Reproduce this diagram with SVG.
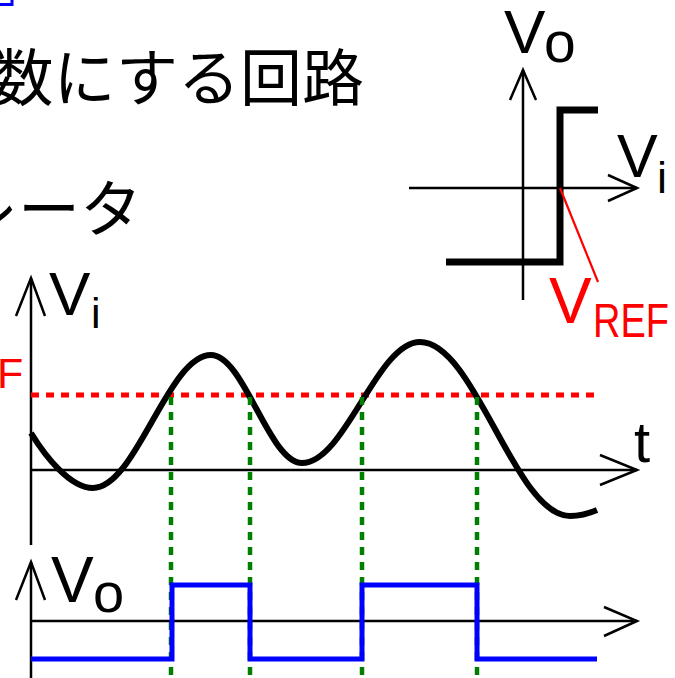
<svg xmlns="http://www.w3.org/2000/svg" width="675" height="678" viewBox="0 0 675 678">
<style>
.jp{font-family:"Noto Sans CJK JP","Noto Sans CJK SC",sans-serif;font-size:62px;fill:#000}
.lb{font-family:"Liberation Sans","Noto Sans",sans-serif;fill:#000}
.red{fill:#ff0000}
.ax{stroke:#000;stroke-width:2.5;fill:none}
.ah{stroke:#000;stroke-width:2.5;fill:none;stroke-linecap:butt}
.gd{stroke:#008000;stroke-width:4.5;stroke-dasharray:8 7;fill:none}
</style>
<rect width="675" height="678" fill="#fff"/>
<g id="title">
<path d="M0,4.5 H12 V0" stroke="#0000ff" stroke-width="3" fill="none"/>
<text class="jp" x="364" y="101" text-anchor="end">数にする回路</text>
<text class="jp" x="142" y="232" text-anchor="end">レータ</text>
</g>
<g id="transfer-graph">
<line class="ax" x1="523" y1="70" x2="523" y2="300"/>
<polyline class="ah" points="510,100 523,70 536,100"/>
<line class="ax" x1="409" y1="188" x2="637" y2="188"/>
<polyline class="ah" points="608,175 637,188 608,201"/>
<polyline points="446,262 560,262 560,110 598,110" stroke="#000" stroke-width="7" fill="none"/>
<line x1="560" y1="188" x2="598" y2="282" stroke="#ff0000" stroke-width="2.2"/>
<text class="lb" x="504" y="53" font-size="62">V</text>
<text class="lb" x="544" y="62" font-size="57">o</text>
<text class="lb" x="617" y="177" font-size="61">V</text>
<text class="lb" x="657" y="193" font-size="45">i</text>
<text class="lb red" x="549" y="323" font-size="64">V</text>
<text class="lb red" x="593" y="337" font-size="49" textLength="76" lengthAdjust="spacingAndGlyphs">REF</text>
</g>
<g id="vi-graph">
<line class="ax" x1="31" y1="278" x2="31" y2="545"/>
<polyline class="ah" points="16,316 31,278 45,316"/>
<line class="ax" x1="31" y1="470" x2="637" y2="470"/>
<polyline class="ah" points="600,455 637,470 600,485"/>
<text class="lb" x="49" y="315" font-size="62">V</text>
<text class="lb" x="91" y="328" font-size="43">i</text>
<text class="lb" x="634" y="462" font-size="58">t</text>
<text class="lb red" x="-3" y="388" font-size="43">F</text>
<line x1="31" y1="395" x2="597" y2="395" stroke="#ff0000" stroke-width="5" stroke-dasharray="8 7"/>
<path d="M31,433 C45,456 70,488 93,488 C136,488 168,355 211,355 C244,355 269,463 302,463 C345,463 377,342 420,342 C475,342 515,516 570,516 C580,516 590,513 597,510" stroke="#000" stroke-width="6" fill="none"/>
</g>
<g id="connectors">
<line class="gd" x1="171" y1="397" x2="171" y2="678"/>
<line class="gd" x1="250" y1="397" x2="250" y2="678"/>
<line class="gd" x1="362" y1="397" x2="362" y2="678"/>
<line class="gd" x1="477" y1="397" x2="477" y2="678"/>
</g>
<g id="vo-graph">
<line class="ax" x1="31" y1="562" x2="31" y2="678"/>
<polyline class="ah" points="16,600 31,562 45,600"/>
<line class="ax" x1="31" y1="621" x2="637" y2="621"/>
<polyline class="ah" points="604,607 637,621 604,636"/>
<text class="lb" x="51" y="602" font-size="64">V</text>
<text class="lb" x="93" y="612" font-size="56">o</text>
<polyline points="31,659 172,659 172,585 250,585 250,659 362,659 362,585 477,585 477,659 597,659" stroke="#0000ff" stroke-width="5" fill="none"/>
</g>
</svg>
